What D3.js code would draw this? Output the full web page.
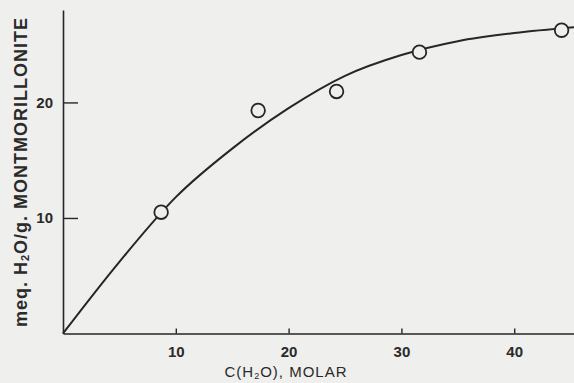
<!DOCTYPE html>
<html>
<head>
<script src="https://d3js.org/d3.v7.min.js"></script>
<style>
  body { margin: 0; background: #efefed; }
  svg { display: block; }
  text { font-family: "Liberation Sans", Arial, sans-serif; fill: #2a2a2a; font-weight: bold; }
</style>
</head>
<body>
<div id="chart"></div>
<script>
// measured points (C(H2O) molar, meq H2O/g)
const pointX = [8.7, 17.3, 24.25, 31.6, 44.2];
const pointY = [10.5, 19.3, 20.95, 24.35, 26.25];

// smooth curve
const curveX = [0, 5, 10, 15, 20, 25, 30, 35, 40, 45.3];
const curveY = [0, 6.2, 11.8, 16.0, 19.5, 22.3, 24.1, 25.3, 26.0, 26.5];

const xTicks = [10, 20, 30, 40];
const yTicks = [10, 20];

const W = 574, H = 383;
const margin = { top: 10, right: 0, bottom: 50, left: 63 };

const svg = d3.select("#chart").append("svg")
    .attr("width", W).attr("height", H);

const x = d3.scaleLinear().domain([0, 45.3]).range([margin.left, W - margin.right]);
const y = d3.scaleLinear().domain([0, 28]).range([H - margin.bottom + 0.5, margin.top]);

const ink = "#262626";

// x axis, ticks pointing up into the plot
const xAxis = svg.append("g")
    .attr("transform", `translate(0,${y(0)})`)
    .call(d3.axisBottom(x).tickValues(xTicks).tickSizeInner(-5).tickSizeOuter(0).tickPadding(13));
xAxis.select(".domain").attr("stroke", ink).attr("stroke-width", 1.6);
xAxis.selectAll(".tick line").attr("stroke", ink).attr("stroke-width", 1.4);
xAxis.selectAll(".tick text").attr("font-size", 15).attr("fill", ink).attr("font-weight", "bold");

// y axis, ticks pointing right
const yAxis = svg.append("g")
    .attr("transform", `translate(${x(0)},0)`)
    .call(d3.axisLeft(y).tickValues(yTicks).tickSizeInner(-15).tickSizeOuter(0).tickPadding(8));
yAxis.select(".domain").attr("stroke", ink).attr("stroke-width", 1.6);
yAxis.selectAll(".tick line").attr("stroke", ink).attr("stroke-width", 1.4);
yAxis.selectAll(".tick text").attr("font-size", 15).attr("fill", ink).attr("font-weight", "bold")
    .attr("x", -10);

// fitted curve
const line = d3.line()
    .x(d => x(d[0]))
    .y(d => y(d[1]))
    .curve(d3.curveMonotoneX);

svg.append("path")
    .datum(d3.zip(curveX, curveY))
    .attr("d", line)
    .attr("fill", "none")
    .attr("stroke", ink)
    .attr("stroke-width", 2);

// open circles
svg.selectAll(".pt")
    .data(d3.zip(pointX, pointY))
    .enter().append("circle")
    .attr("class", "pt")
    .attr("cx", d => x(d[0]))
    .attr("cy", d => y(d[1]))
    .attr("r", 6.8)
    .attr("fill", "#efefed")
    .attr("stroke", ink)
    .attr("stroke-width", 1.8);

// axis titles
const xt = svg.append("text")
    .attr("x", 286).attr("y", 377)
    .attr("text-anchor", "middle")
    .attr("font-size", 15)
    .attr("letter-spacing", 1)
    .style("font-weight", "normal");
xt.append("tspan").text("C(H");
xt.append("tspan").text("2").attr("font-size", 9).attr("dy", 2);
xt.append("tspan").text("O), MOLAR").attr("dy", -2);

const yt = svg.append("text")
    .attr("transform", "translate(27,172) rotate(-90)")
    .attr("text-anchor", "middle")
    .attr("font-size", 18)
    .attr("letter-spacing", 1);
yt.append("tspan").text("meq. H");
yt.append("tspan").text("2").attr("font-size", 11).attr("dy", 2);
yt.append("tspan").text("O/g. MONTMORILLONITE").attr("dy", -2);
</script>
</body>
</html>
